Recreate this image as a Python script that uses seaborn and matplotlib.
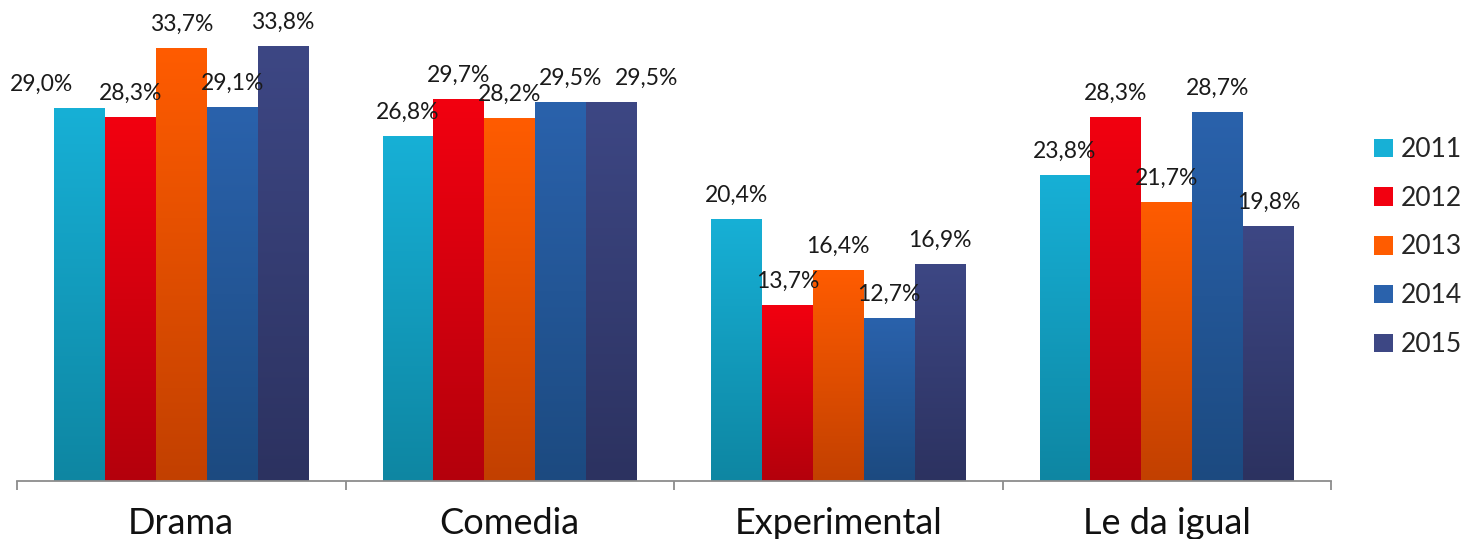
import numpy as np
import pandas as pd
import matplotlib
matplotlib.use("Agg")
import matplotlib.pyplot as plt
import seaborn as sns
from matplotlib.colors import LinearSegmentedColormap

# Datos del gráfico
categorias = ["Drama", "Comedia", "Experimental", "Le da igual"]
anios = ["2011", "2012", "2013", "2014", "2015"]
v2011 = [29.0, 26.8, 20.4, 23.8]
v2012 = [28.3, 29.7, 13.7, 28.3]
v2013 = [33.7, 28.2, 16.4, 21.7]
v2014 = [29.1, 29.5, 12.7, 28.7]
v2015 = [33.8, 29.5, 16.9, 19.8]

# colores (arriba, abajo) para el degradado de cada año
col_top = ["#17b0d6", "#f20010", "#ff5c00", "#2a62ac", "#3d4784"]
col_bot = ["#0e86a2", "#b4000c", "#c24000", "#1c4a80", "#2c3260"]

# pequeños desplazamientos horizontales de algunas etiquetas (px)
nudge = {(0, 0): -38, (3, 1): 10, (4, 1): 35}

series = [v2011, v2012, v2013, v2014, v2015]
filas = []
for anio, vals in zip(anios, series):
    for cat, v in zip(categorias, vals):
        filas.append({"categoria": cat, "anio": anio, "valor": v})
df = pd.DataFrame(filas)

sns.set_style("white")
plt.rcParams["font.family"] = ["Lato", "DejaVu Sans"]

fig = plt.figure(figsize=(14.66, 5.39), dpi=100)
ax = fig.add_axes([17 / 1466, 58 / 539, (1331 - 17) / 1466, 481 / 539])

sns.barplot(data=df, x="categoria", y="valor", hue="anio", order=categorias,
            hue_order=anios, palette=col_top, saturation=1, width=0.774,
            gap=0, ax=ax, legend=True)

ax.set_ylim(0, 37.4)
ax.set_xlim(-0.5, 3.5)

# degradado vertical dentro de cada barra
grad = np.linspace(0, 1, 256).reshape(-1, 1)
for i, cont in enumerate(ax.containers):
    cmap = LinearSegmentedColormap.from_list("g%d" % i, [col_bot[i], col_top[i]])
    for j, bar in enumerate(cont):
        x0, y0 = bar.get_x(), bar.get_y()
        w, h = bar.get_width(), bar.get_height()
        bar.set_edgecolor("none")
        im = ax.imshow(grad, cmap=cmap, aspect="auto", origin="lower",
                       extent=[x0, x0 + w, 0, h], zorder=bar.get_zorder() + 0.1)
        im.set_clip_path(bar)
        txt = f"{series[i][j]:.1f}%".replace(".", ",")
        ax.annotate(txt, (x0 + w / 2, h), xytext=(nudge.get((i, j), 0) * 0.72, 17),
                    textcoords="offset points", ha="center", va="center",
                    fontsize=16.5, color="#1a1a1a", zorder=5)

ax.set_xlim(-0.5, 3.5)
ax.set_ylim(0, 37.4)

for s in ["top", "right", "left"]:
    ax.spines[s].set_visible(False)
ax.spines["bottom"].set_color("#8c8c8c")
ax.spines["bottom"].set_linewidth(1.3)
ax.set_yticks([])
ax.set_xlabel("")
ax.set_ylabel("")
ax.set_xticks(range(len(categorias)))
ax.set_xticklabels(categorias, fontsize=26, color="#111111")
ax.tick_params(axis="x", which="major", bottom=False, length=0, pad=19)
ax.set_xticks(np.arange(-0.5, 4, 1), minor=True)
ax.tick_params(axis="x", which="minor", bottom=True, length=6.5, width=1.3,
               color="#8c8c8c", direction="out")

handles, labels = ax.get_legend_handles_labels()
for hd, c in zip(handles, col_top):
    hd.set_facecolor(c)
    hd.set_edgecolor("none")
ax.legend(handles, labels, loc="center left",
          bbox_to_anchor=(1361 / 1466, (539 - 247) / 539),
          bbox_transform=fig.transFigure, frameon=False, fontsize=19,
          handlelength=0.7, handleheight=0.7, handletextpad=0.3, labelspacing=0.9,
          borderpad=0)

fig.savefig("out.png", dpi=100)
